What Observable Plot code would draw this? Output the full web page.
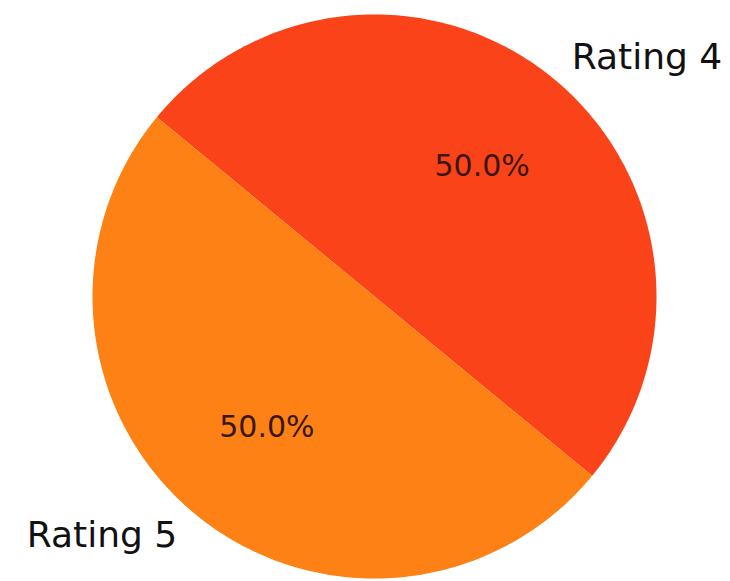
<!DOCTYPE html>
<html><head><meta charset="utf-8">
<script src="https://cdn.jsdelivr.net/npm/d3@7"></script>
<script src="https://cdn.jsdelivr.net/npm/@observablehq/plot@0.6"></script>
<style>html,body{margin:0;padding:0;background:#fff}</style>
</head><body><div id="chart"></div>
<script>
const labels = ["Rating 4", "Rating 5"];
const values = [1, 1];
const colors = ["#fa4318", "#fd8114"];
const startAngle = -39.5; // degrees, counter-clockwise from east

const total = d3.sum(values);
const slices = [];
let acc = startAngle;
labels.forEach((label, i) => {
  const span = values[i] / total * 360;
  slices.push({label, a0: acc, a1: acc + span, mid: acc + span / 2,
    pct: (values[i] / total * 100).toFixed(1) + "%"});
  acc += span;
});
const rad = d => d * Math.PI / 180;
const outline = slices.flatMap(s => {
  const pts = [{label: s.label, x: 0, y: 0}];
  const n = Math.ceil(s.a1 - s.a0);
  for (let k = 0; k <= n; k++) {
    const a = rad(s.a0 + (s.a1 - s.a0) * k / n);
    pts.push({label: s.label, x: Math.cos(a), y: Math.sin(a)});
  }
  pts.push({label: s.label, x: 0, y: 0});
  return pts;
});
const px = (r) => d => r * Math.cos(rad(d.mid));
const py = (r) => d => r * Math.sin(rad(d.mid));

const chart = Plot.plot({
  width: 730, height: 581,
  marginLeft: 92, marginRight: 74, marginTop: 14, marginBottom: 3,
  x: {domain: [-1, 1], axis: null},
  y: {domain: [-1, 1], axis: null},
  color: {domain: labels, range: colors},
  style: {fontFamily: "DejaVu Sans", background: "#fff", overflow: "visible"},
  marks: [
    Plot.line(outline, {x: "x", y: "y", z: "label", fill: "label", stroke: "none", curve: "linear"}),
    Plot.text(slices, {x: px(0.6), y: py(0.6), text: "pct", fontSize: 30, fill: "#3a1610"}),
    Plot.text(slices.filter(d => Math.cos(rad(d.mid)) >= 0), {x: px(1.1), y: py(1.1), text: "label", textAnchor: "start", fontSize: 36, fill: "#111"}),
    Plot.text(slices.filter(d => Math.cos(rad(d.mid)) < 0), {x: px(1.1), y: py(1.1), text: "label", textAnchor: "end", fontSize: 36, fill: "#111"})
  ]
});
document.getElementById("chart").appendChild(chart);
</script>
</body></html>
